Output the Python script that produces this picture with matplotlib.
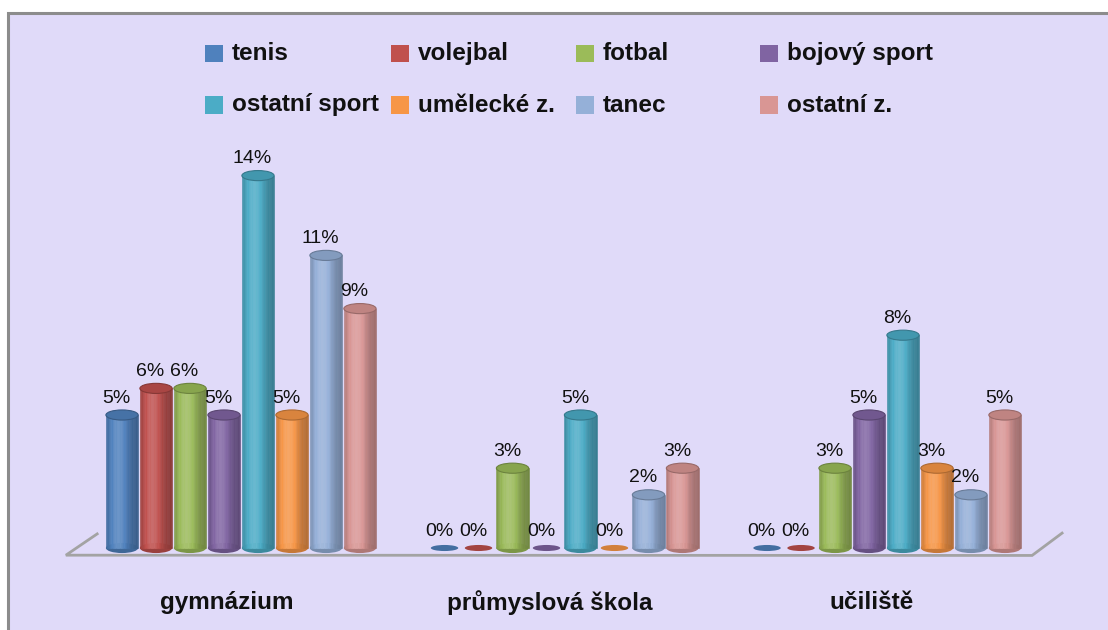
import numpy as np
import matplotlib
matplotlib.use("Agg")
import matplotlib.pyplot as plt
from matplotlib.patches import Ellipse, Rectangle
from matplotlib.colors import to_rgb

categories = ["gymnázium", "průmyslová škola", "učiliště"]
series = ["tenis", "volejbal", "fotbal", "bojový sport",
          "ostatní sport", "umělecké z.", "tanec", "ostatní z."]
tenis = [5, 0, 0]
volejbal = [6, 0, 0]
fotbal = [6, 3, 3]
bojovy_sport = [5, 0, 5]
ostatni_sport = [14, 5, 8]
umelecke_z = [5, 0, 3]
tanec = [11, 2, 2]
ostatni_z = [9, 3, 5]
values = [tenis, volejbal, fotbal, bojovy_sport, ostatni_sport, umelecke_z, tanec, ostatni_z]
labels = [["5%", "0%", "0%"], ["6%", "0%", "0%"], ["6%", "3%", "3%"], ["5%", "0%", "5%"],
          ["14%", "5%", "8%"], ["5%", "0%", "3%"], ["11%", "2%", "2%"], ["9%", "3%", "5%"]]
colors = ["#4F81BD", "#C0504D", "#9BBB59", "#8064A2",
          "#4BACC6", "#F79646", "#95B0D8", "#D99694"]

BG = "#E0DAF9"
W, H = 1108, 630
fig = plt.figure(figsize=(W / 100, H / 100), dpi=100, facecolor="white")

# chart area frame
fig.patches.append(Rectangle((8 / W, -0.05), (W - 8) / W + 0.01, (H - 13) / H + 0.05,
                             transform=fig.transFigure, facecolor=BG,
                             edgecolor="#8C8C8C", linewidth=2.2, zorder=-10))

ax = fig.add_axes([47.5 / W, 1 - 574.6 / H, 1032 / W, 425.6 / H])
ax.set_zorder(1)
ax.set_xlim(-0.6, 2.6)
ax.set_ylim(-1, 15)
ax.axis("off")
ax.patch.set_alpha(0)


def shade(c, f):
    c = np.array(to_rgb(c))
    if f >= 1:
        return tuple(c + (1 - c) * (f - 1))
    return tuple(c * f)


pitch = 0.1054
bw = 0.1
eh = 0.38
N = 24
x = np.arange(len(categories))

# floor
ax.plot([-0.446, -0.543, 2.453, 2.546], [0.53, -0.27, -0.28, 0.56],
        color="#A3A3A3", lw=2, clip_on=False, zorder=1, solid_joinstyle="miter")

for i, (name, vals, col) in enumerate(zip(series, values, colors)):
    xs = x + (i - 3.5) * pitch
    for j, (xc, v) in enumerate(zip(xs, vals)):
        if v > 0:
            ax.add_patch(Ellipse((xc, 0), bw, eh, facecolor=shade(col, 0.8),
                                 edgecolor="none", zorder=2))
            for k in range(N):
                t = (k + 0.5) / N
                f = 0.72 + 0.42 * np.exp(-((t - 0.38) / 0.32) ** 2)
                c = shade(col, f)
                ax.bar(xc - bw / 2 + t * bw, v, width=bw / N, color=c,
                       edgecolor=c, linewidth=0.4, zorder=3)
            ax.add_patch(Ellipse((xc, v), bw, eh, facecolor=shade(col, 0.88),
                                 edgecolor=shade(col, 0.7), linewidth=0.8, zorder=4))
        else:
            ax.add_patch(Ellipse((xc, 0), bw * 0.85, eh * 0.6, facecolor=shade(col, 0.85),
                                 edgecolor="none", zorder=4))
        ax.annotate(labels[i][j], (xc, v), xytext=(-4, 9), textcoords="offset points",
                    ha="center", va="baseline", fontsize=14,
                    family="Liberation Sans", color="#111111", zorder=5,
                    annotation_clip=False)

for xc, cat in zip(x, categories):
    ax.annotate(cat, (xc, 0), xytext=(-10, -39), textcoords="offset points",
                ha="center", va="center", fontsize=17.5, fontweight="bold",
                family="Liberation Sans", color="#111111", annotation_clip=False)

# legend
col_x = [205, 391, 576, 760]
row_y = [53.5, 105]
for i, (name, col) in enumerate(zip(series, colors)):
    cx = col_x[i % 4]
    cy = row_y[i // 4]
    fig.patches.append(Rectangle((cx / W, 1 - (cy + 8.5) / H), 18 / W, 17 / H,
                                 transform=fig.transFigure, facecolor=col,
                                 edgecolor="none", zorder=3))
    fig.text((cx + 27) / W, 1 - cy / H, name, ha="left", va="center",
             fontsize=17.5, fontweight="bold", family="Liberation Sans",
             color="#111111")

fig.savefig("out.png", dpi=100, facecolor="white")
